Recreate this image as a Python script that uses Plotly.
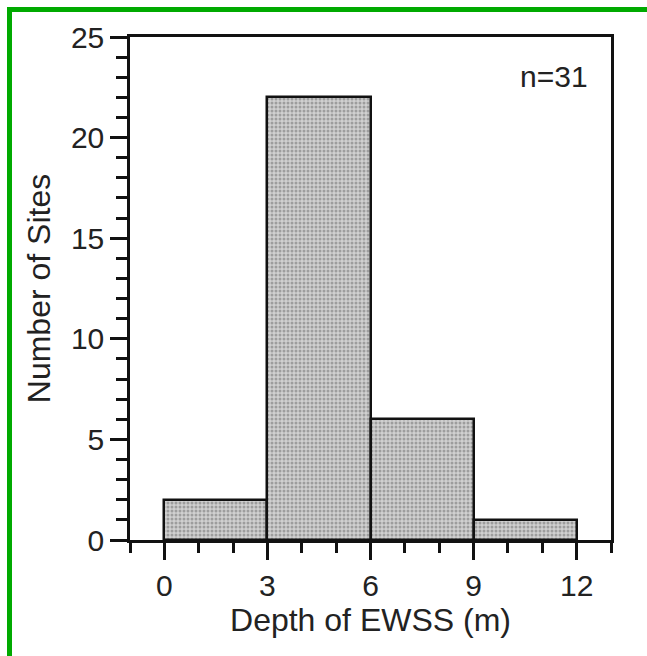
import plotly.graph_objects as go

bin_edges = [0, 3, 6, 9, 12]
site_counts = [2, 22, 6, 1]
x_tick_labels = ["0", "3", "6", "9", "12"]
y_tick_labels = ["0", "5", "10", "15", "20", "25"]
n_label = "n=31"

centers = [(bin_edges[i] + bin_edges[i + 1]) / 2 for i in range(len(site_counts))]
widths = [bin_edges[i + 1] - bin_edges[i] for i in range(len(site_counts))]

W, H = 647, 656
ml, mr, mt, mb = 130, 36, 37, 116
pw, ph = W - ml - mr, H - mt - mb

def px_to_paper_x(px):
    return (px - ml) / pw

def py_to_paper_y(py):
    return 1 - (py - mt) / ph

FAM = "Liberation Sans, Arial, sans-serif"
tick_font = dict(family=FAM, size=30, color="#222")
title_font = dict(family=FAM, size=32, color="#222")

fig = go.Figure()
fig.add_trace(go.Bar(
    x=centers, y=site_counts, width=widths,
    marker=dict(
        color="#bdbdbd",
        line=dict(color="#111", width=2.5),
        pattern=dict(shape=".", bgcolor="#d0d0d0", fgcolor="#6a6a6a", size=4, solidity=0.45),
    ),
    showlegend=False,
))

axis_common = dict(
    showline=True, linecolor="#111", linewidth=2.5, mirror=True,
    ticks="outside", ticklen=17, tickwidth=2.5, tickcolor="#111",
    showgrid=False, zeroline=False, tickfont=tick_font,
)

fig.update_xaxes(
    range=[-1, 13], tickmode="array", tickvals=[int(t) for t in x_tick_labels], ticktext=x_tick_labels,
    minor=dict(dtick=1, tick0=0, ticks="outside", ticklen=10, tickwidth=2.5, tickcolor="#111"),
    title=dict(text="Depth of EWSS (m)", font=title_font, standoff=3),
    **axis_common,
)
fig.update_yaxes(
    range=[0, 25], tickmode="array", tickvals=[int(t) for t in y_tick_labels], ticktext=y_tick_labels,
    minor=dict(dtick=1, tick0=0, ticks="outside", ticklen=11, tickwidth=2.5, tickcolor="#111"),
    title=dict(text="Number of Sites", font=title_font, standoff=11),
    **axis_common,
)

fig.add_annotation(
    x=px_to_paper_x(590), y=py_to_paper_y(76), xref="paper", yref="paper",
    xanchor="right", yanchor="middle", text=n_label, showarrow=False,
    font=dict(family=FAM, size=30, color="#222"),
)

# green frame
green = "#00aa00"
fig.add_shape(type="line", xref="paper", yref="paper",
              x0=px_to_paper_x(9.5), x1=px_to_paper_x(660), y0=py_to_paper_y(9.5), y1=py_to_paper_y(9.5),
              line=dict(color=green, width=5))
fig.add_shape(type="line", xref="paper", yref="paper",
              x0=px_to_paper_x(9.5), x1=px_to_paper_x(9.5), y0=py_to_paper_y(7), y1=py_to_paper_y(670),
              line=dict(color=green, width=5))

fig.update_layout(
    width=W, height=H,
    margin=dict(l=ml, r=mr, t=mt, b=mb),
    paper_bgcolor="white", plot_bgcolor="white",
    bargap=0,
)

fig.write_html("out.html")
